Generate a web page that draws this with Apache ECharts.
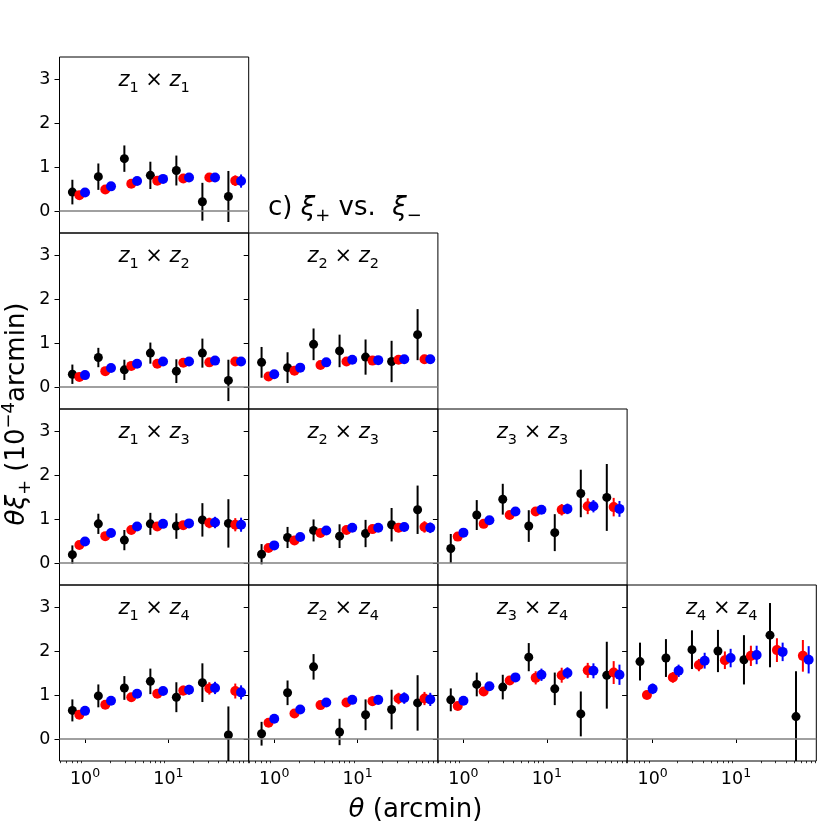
<!DOCTYPE html>
<html>
<head>
<meta charset="utf-8">
<script src="https://cdn.jsdelivr.net/npm/echarts@6/dist/echarts.min.js"></script>
<style>
html, body { margin: 0; padding: 0; background: #fff; }
#chart { width: 831px; height: 831px; }
</style>
</head>
<body>
<div id="chart"></div>
<script>
// angular bins (arcmin) of the three measurements
var thetaBlack = [0.705, 1.445, 2.965, 6.08, 12.47, 25.6, 52.5];
var thetaRed = [0.855, 1.75, 3.59, 7.36, 15.1, 31.0, 63.5];
var thetaBlue = [1.0, 2.05, 4.21, 8.63, 17.7, 36.3, 74.5];

// bin pairs, in panel order
var panelPairs = [[1, 1], [1, 2], [2, 2], [1, 3], [2, 3], [3, 3], [1, 4], [2, 4], [3, 4], [4, 4]];

var blackXi = [
    [0.43, 0.78, 1.19, 0.81, 0.92, 0.21, 0.33],
    [0.29, 0.67, 0.39, 0.77, 0.36, 0.77, 0.15],
    [0.56, 0.44, 0.97, 0.82, 0.68, 0.58, 1.19],
    [0.19, 0.89, 0.52, 0.89, 0.84, 0.98, 0.90],
    [0.20, 0.58, 0.74, 0.61, 0.67, 0.87, 1.21],
    [0.33, 1.09, 1.45, 0.84, 0.69, 1.58, 1.49],
    [0.65, 0.98, 1.16, 1.31, 0.95, 1.28, 0.09],
    [0.12, 1.05, 1.64, 0.16, 0.55, 0.67, 0.82],
    [0.89, 1.24, 1.18, 1.86, 1.14, 0.57, 1.45],
    [1.76, 1.84, 2.03, 2.00, 1.80, 2.36, 0.51]
];
var blackErr = [
    [0.28, 0.30, 0.30, 0.31, 0.34, 0.43, 0.58],
    [0.22, 0.22, 0.23, 0.24, 0.27, 0.33, 0.47],
    [0.35, 0.35, 0.36, 0.37, 0.40, 0.47, 0.58],
    [0.21, 0.23, 0.23, 0.25, 0.29, 0.38, 0.55],
    [0.23, 0.24, 0.25, 0.27, 0.31, 0.38, 0.55],
    [0.33, 0.34, 0.35, 0.36, 0.42, 0.54, 0.76],
    [0.25, 0.26, 0.27, 0.29, 0.34, 0.44, 0.65],
    [0.27, 0.28, 0.29, 0.30, 0.35, 0.45, 0.63],
    [0.26, 0.27, 0.28, 0.32, 0.37, 0.51, 0.76],
    [0.43, 0.43, 0.44, 0.48, 0.56, 0.73, 1.03]
];
var redXi = [
    [0.36, 0.49, 0.62, 0.69, 0.74, 0.76, 0.69],
    [0.23, 0.36, 0.48, 0.53, 0.55, 0.56, 0.58],
    [0.24, 0.37, 0.50, 0.58, 0.60, 0.62, 0.63],
    [0.41, 0.61, 0.75, 0.83, 0.86, 0.91, 0.87],
    [0.34, 0.51, 0.68, 0.75, 0.77, 0.80, 0.82],
    [0.60, 0.89, 1.09, 1.17, 1.21, 1.29, 1.27],
    [0.55, 0.78, 0.95, 1.03, 1.10, 1.15, 1.09],
    [0.37, 0.58, 0.77, 0.83, 0.86, 0.92, 0.92],
    [0.75, 1.08, 1.33, 1.39, 1.45, 1.56, 1.51],
    [1.00, 1.40, 1.68, 1.79, 1.89, 2.02, 1.89]
];
var redErr = [
    [0.03, 0.03, 0.04, 0.05, 0.07, 0.09, 0.12],
    [0.02, 0.03, 0.04, 0.05, 0.06, 0.08, 0.10],
    [0.02, 0.03, 0.04, 0.05, 0.06, 0.08, 0.10],
    [0.03, 0.04, 0.05, 0.06, 0.08, 0.12, 0.15],
    [0.03, 0.04, 0.05, 0.06, 0.08, 0.10, 0.13],
    [0.04, 0.05, 0.06, 0.08, 0.13, 0.18, 0.21],
    [0.03, 0.04, 0.06, 0.08, 0.11, 0.14, 0.17],
    [0.03, 0.04, 0.06, 0.08, 0.11, 0.13, 0.15],
    [0.04, 0.06, 0.10, 0.15, 0.17, 0.17, 0.26],
    [0.05, 0.12, 0.14, 0.20, 0.23, 0.27, 0.36]
];
var blueXi = [
    [0.42, 0.56, 0.68, 0.73, 0.76, 0.76, 0.68],
    [0.27, 0.43, 0.53, 0.58, 0.58, 0.60, 0.58],
    [0.29, 0.44, 0.56, 0.62, 0.61, 0.63, 0.63],
    [0.49, 0.68, 0.83, 0.89, 0.90, 0.92, 0.87],
    [0.40, 0.59, 0.74, 0.80, 0.80, 0.82, 0.80],
    [0.69, 0.97, 1.17, 1.21, 1.23, 1.29, 1.23],
    [0.64, 0.87, 1.03, 1.09, 1.12, 1.16, 1.06],
    [0.46, 0.67, 0.83, 0.89, 0.89, 0.93, 0.90],
    [0.87, 1.20, 1.40, 1.46, 1.50, 1.55, 1.46],
    [1.14, 1.55, 1.78, 1.84, 1.91, 1.98, 1.80]
];
var blueErr = [
    [0.03, 0.03, 0.04, 0.05, 0.07, 0.10, 0.15],
    [0.02, 0.03, 0.04, 0.05, 0.06, 0.08, 0.10],
    [0.02, 0.03, 0.04, 0.05, 0.06, 0.08, 0.10],
    [0.03, 0.04, 0.05, 0.06, 0.08, 0.13, 0.16],
    [0.03, 0.04, 0.05, 0.06, 0.07, 0.10, 0.12],
    [0.04, 0.05, 0.06, 0.08, 0.12, 0.14, 0.18],
    [0.03, 0.04, 0.06, 0.08, 0.11, 0.14, 0.16],
    [0.03, 0.04, 0.06, 0.08, 0.11, 0.13, 0.15],
    [0.04, 0.06, 0.10, 0.14, 0.13, 0.17, 0.23],
    [0.12, 0.14, 0.18, 0.21, 0.21, 0.21, 0.31]
];

var xMajorTicks = [1, 10];
var xMinorTicks = [0.5, 0.6, 0.7, 0.8, 0.9, 2, 3, 4, 5, 6, 7, 8, 9, 20, 30, 40, 50, 60, 70, 80, 90];
var yTicks = [0, 1, 2, 3];

var FONT = 'DejaVu Sans';
var L0 = 59.5, PW = 189.2, T0 = 57, PH = 176;

var myChart = echarts.init(document.getElementById('chart'));

function errRender(color, width) {
    return function (params, api) {
        var cs = params.coordSys;
        var p1 = api.coord([api.value(0), api.value(2)]);
        var p2 = api.coord([api.value(0), api.value(1)]);
        var y1 = Math.max(p1[1], cs.y);
        var y2 = Math.min(p2[1], cs.y + cs.height);
        return {
            type: 'line',
            shape: {x1: p1[0], y1: y1, x2: p1[0], y2: y2},
            style: {stroke: color, lineWidth: width}
        };
    };
}

function errData(theta, vals, errs) {
    return theta.map(function (t, k) {
        return [t, vals[k] - errs[k], vals[k] + errs[k]];
    });
}

function ptData(theta, vals) {
    return theta.map(function (t, k) {
        return [t, vals[k]];
    });
}

var grids = [], xAxes = [], yAxes = [], series = [], graphics = [];

panelPairs.forEach(function (p, i) {
    var col = p[0] - 1, row = p[1] - 1;
    var bottom = row === 3;
    grids.push({
        left: L0 + col * PW, top: T0 + row * PH, width: PW, height: PH,
        show: true, borderColor: '#000', borderWidth: 1, backgroundColor: 'rgba(0,0,0,0)'
    });
    xAxes.push({
        type: 'log', logBase: 10, gridIndex: i, min: 0.494, max: 92, position: 'bottom',
        axisLine: {show: false}, splitLine: {show: false},
        axisTick: {show: bottom, customValues: xMajorTicks, length: 4, lineStyle: {color: '#000', width: 1}},
        axisLabel: {
            show: bottom, customValues: xMajorTicks, margin: 6, color: '#000',
            formatter: function (v) {
                return '{b|10}{p|' + Math.round(Math.log(v) / Math.LN10) + '}';
            },
            rich: {
                b: {fontFamily: FONT, fontSize: 17.5, lineHeight: 24, color: '#000'},
                p: {fontFamily: FONT, fontSize: 12.5, lineHeight: 14, verticalAlign: 'top', color: '#000'}
            }
        }
    });
    yAxes.push({
        type: 'value', gridIndex: i, min: -0.5, max: 3.5,
        axisLine: {show: false}, splitLine: {show: false},
        axisTick: {show: true, customValues: yTicks, length: 5, lineStyle: {color: '#000', width: 1}},
        axisLabel: {show: col === 0, customValues: yTicks, margin: 9, color: '#000', fontFamily: FONT, fontSize: 17.5}
    });

    series.push({
        type: 'custom', xAxisIndex: i, yAxisIndex: i, renderItem: errRender('#000', 2),
        encode: {x: 0, y: [1, 2]}, data: errData(thetaBlack, blackXi[i], blackErr[i]), silent: true,
        markLine: {
            silent: true, symbol: 'none', label: {show: false}, animation: false,
            lineStyle: {color: '#808080', width: 1.5, type: 'solid'},
            data: [{yAxis: 0}]
        }
    });
    series.push({
        type: 'scatter', xAxisIndex: i, yAxisIndex: i, symbolSize: 9, silent: true,
        itemStyle: {color: '#000', opacity: 1}, data: ptData(thetaBlack, blackXi[i])
    });
    series.push({
        type: 'custom', xAxisIndex: i, yAxisIndex: i, renderItem: errRender('#ff0000', 2),
        encode: {x: 0, y: [1, 2]}, data: errData(thetaRed, redXi[i], redErr[i]), silent: true
    });
    series.push({
        type: 'scatter', xAxisIndex: i, yAxisIndex: i, symbolSize: 10, silent: true,
        itemStyle: {color: '#ff0000', opacity: 1}, data: ptData(thetaRed, redXi[i])
    });
    series.push({
        type: 'custom', xAxisIndex: i, yAxisIndex: i, renderItem: errRender('#0000ff', 2),
        encode: {x: 0, y: [1, 2]}, data: errData(thetaBlue, blueXi[i], blueErr[i]), silent: true
    });
    series.push({
        type: 'scatter', xAxisIndex: i, yAxisIndex: i, symbolSize: 10, silent: true,
        itemStyle: {color: '#0000ff', opacity: 1}, data: ptData(thetaBlue, blueXi[i])
    });

    graphics.push({
        type: 'text', x: L0 + col * PW + PW / 2, y: T0 + row * PH + 24, silent: true,
        style: {
            text: '{i|z}{s|' + p[0] + '}{o| × }{i|z}{s|' + p[1] + '}',
            align: 'center', verticalAlign: 'middle',
            rich: {
                i: {fontFamily: FONT, fontStyle: 'italic', fontSize: 21, lineHeight: 29, fill: '#000'},
                s: {fontFamily: FONT, fontSize: 14.5, lineHeight: 15, verticalAlign: 'bottom', fill: '#000'},
                o: {fontFamily: FONT, fontSize: 21, lineHeight: 29, fill: '#000'}
            }
        }
    });
});

// minor ticks on the bottom row
panelPairs.forEach(function (p, i) {
    if (p[1] !== 4) return;
    xAxes.push({
        type: 'log', logBase: 10, gridIndex: i, min: 0.494, max: 92, position: 'bottom',
        axisLine: {show: false}, splitLine: {show: false}, axisLabel: {show: false},
        axisTick: {show: true, customValues: xMinorTicks, length: 2.2, lineStyle: {color: '#000', width: 0.8}}
    });
});

var bigRich = {
    r: {fontFamily: FONT, fontSize: 26, lineHeight: 34, fill: '#000'},
    i: {fontFamily: FONT, fontStyle: 'italic', fontSize: 26, lineHeight: 34, fill: '#000'},
    s: {fontFamily: FONT, fontSize: 18, lineHeight: 18, verticalAlign: 'bottom', fill: '#000'},
    p: {fontFamily: FONT, fontSize: 18, lineHeight: 16, verticalAlign: 'top', fill: '#000'}
};

graphics.push({
    type: 'text', x: 268, y: 208, silent: true,
    style: {text: '{r|c) }{i|ξ}{s|+}{r| vs.  }{i|ξ}{s|−}', align: 'left', verticalAlign: 'middle', rich: bigRich}
});
graphics.push({
    type: 'text', x: 415.5, y: 810, silent: true,
    style: {text: '{i|θ}{r| (arcmin)}', align: 'center', verticalAlign: 'middle', rich: bigRich}
});
graphics.push({
    type: 'text', x: 17, y: 414, rotation: Math.PI / 2, silent: true,
    style: {text: '{i|θξ}{s|+}{r| (10}{p|−4}{r|arcmin)}', align: 'center', verticalAlign: 'middle', rich: bigRich}
});

var option = {
    animation: false,
    backgroundColor: '#fff',
    grid: grids,
    xAxis: xAxes,
    yAxis: yAxes,
    series: series,
    graphic: graphics
};

myChart.setOption(option);
</script>
</body>
</html>
